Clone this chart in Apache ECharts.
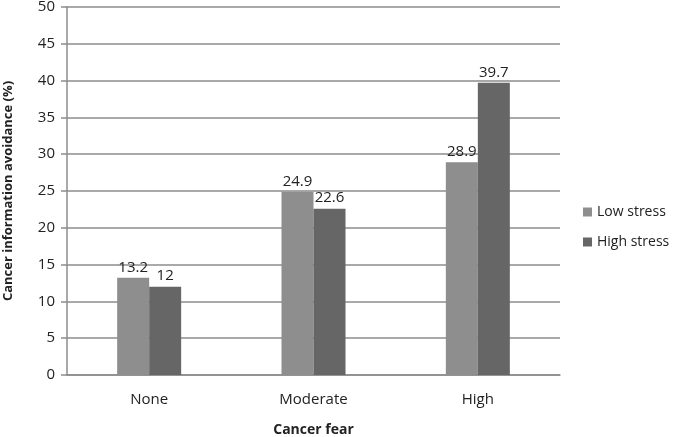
<!DOCTYPE html>
<html><head><meta charset="utf-8">
<script src="https://cdn.jsdelivr.net/npm/echarts@6/dist/echarts.min.js"></script>
<style>html,body{margin:0;padding:0;background:#fff}#c{width:683px;height:437px}</style>
</head><body><div id="c"></div>
<script>
const categories = ['None', 'Moderate', 'High'];
const lowStress = [13.2, 24.9, 28.9];
const highStress = [12, 22.6, 39.7];
const seriesNames = ['Low stress', 'High stress'];
const font = 'Open Sans, DejaVu Sans, sans-serif';
const chart = echarts.init(document.getElementById('c'));
chart.setOption({
  animation: false,
  backgroundColor: '#fff',
  grid: {left: 67, right: 123, top: 7, bottom: 62, containLabel: false, outerBoundsMode: 'none'},
  legend: {
    orient: 'vertical', left: 578, top: 200, itemGap: 16,
    itemWidth: 9, itemHeight: 9, icon: 'rect',
    textStyle: {fontFamily: font, fontSize: 14, color: '#222'},
    data: seriesNames
  },
  xAxis: {
    type: 'category', data: categories,
    name: 'Cancer fear', nameLocation: 'middle', nameGap: 48,
    nameTextStyle: {fontFamily: font, fontSize: 14, fontWeight: 'bold', color: '#222'},
    axisLine: {lineStyle: {color: '#8c8c8c', width: 1.5}},
    axisTick: {show: false},
    axisLabel: {fontFamily: font, fontSize: 15, color: '#222', margin: 17}
  },
  yAxis: {
    type: 'value', min: 0, max: 50, interval: 5,
    name: 'Cancer information avoidance (%)', nameLocation: 'middle', nameGap: 52,
    nameTextStyle: {fontFamily: font, fontSize: 13, fontWeight: 'bold', color: '#222'},
    axisLine: {show: true, lineStyle: {color: '#8c8c8c', width: 1.5}},
    axisTick: {show: true, length: 6, lineStyle: {color: '#8c8c8c', width: 1.5}},
    splitLine: {lineStyle: {color: '#8c8c8c', width: 1.5}},
    axisLabel: {fontFamily: font, fontSize: 15, color: '#222', margin: 12}
  },
  series: [
    {name: seriesNames[0], type: 'bar', data: lowStress, barWidth: 32, barGap: '0%',
     itemStyle: {color: '#8e8e8e'},
     label: {show: true, position: 'top', fontFamily: font, fontSize: 15, color: '#222', distance: 3}},
    {name: seriesNames[1], type: 'bar', data: highStress, barWidth: 32,
     itemStyle: {color: '#666666'},
     label: {show: true, position: 'top', fontFamily: font, fontSize: 15, color: '#222', distance: 3}}
  ]
});
</script></body></html>
